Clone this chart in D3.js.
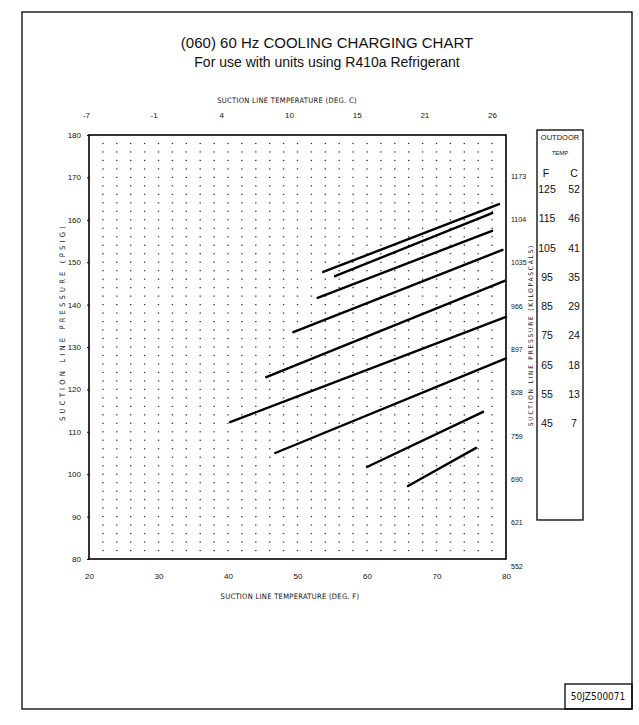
<!DOCTYPE html>
<html lang="en">
<head>
    <meta charset="utf-8">
    <style>
        body { margin: 0; background: #fff; }
        text { font-family: "Liberation Sans", Arial, sans-serif; fill: #111; }
        .tick-lbl { font-family: "Liberation Sans Narrow", "DejaVu Sans Condensed", "Liberation Sans", sans-serif; font-size: 8px; }
        .ax-title { font-family: "Liberation Sans Narrow", "DejaVu Sans Condensed", "Liberation Sans", sans-serif; font-size: 7.5px; }
        .legend { font-family: "Liberation Sans Narrow", "DejaVu Sans Condensed", "Liberation Sans", sans-serif; font-size: 10.5px; }
        .curve { fill: none; stroke: #000; stroke-width: 2.4; stroke-linecap: round; }
    </style>
</head>
<body>
    <svg width="639" height="725"></svg>
    <script src="https://cdn.jsdelivr.net/npm/d3@7"></script>
    <script>

        // outdoor temperatures (legend, top to bottom)
        var outdoorF = [125, 115, 105, 95, 85, 75, 65, 55, 45];
        var outdoorC = [52, 46, 41, 35, 29, 24, 18, 13, 7];

        // charging lines: [start F, start psig, end F, end psig], same order as outdoorF
        var lines = [
            [53.7, 147.7, 79.0, 163.7],
            [55.4, 146.7, 78.0, 161.6],
            [52.9, 141.6, 78.0, 157.4],
            [49.4, 133.5, 79.5, 152.9],
            [45.5, 122.9, 79.8, 145.6],
            [40.3, 112.3, 80.0, 137.1],
            [46.8, 105.0, 80.0, 127.3],
            [60.0, 101.7, 76.7, 114.7],
            [65.9, 97.2, 75.7, 106.2]
        ];

        // axis ticks
        var tempF = [20, 30, 40, 50, 60, 70, 80];
        var tempC = ["-7", "-1", "4", "10", "15", "21", "26"];
        var psig = [80, 90, 100, 110, 120, 130, 140, 150, 160, 170, 180];
        var kpaPsig = [170, 160, 150, 140, 130, 120, 110, 100, 90, 80];
        var kpa = [1173, 1104, 1035, 966, 897, 828, 759, 690, 621, 552];

        var svg = d3.select("svg");

        var x = d3.scaleLinear().domain([20, 80]).range([89, 506]);
        var y = d3.scaleLinear().domain([80, 180]).range([559, 135]);
        // scanned top / right scales are slightly off from the plot frame
        var xTop = d3.scaleLinear().domain([20, 80]).range([86, 492]);
        var yRight = d3.scaleLinear().domain([80, 170]).range([566, 176]);

        // page frame
        svg.append("rect")
            .attr("x", 22).attr("y", 12)
            .attr("width", 610).attr("height", 697)
            .attr("fill", "none").attr("stroke", "#000").attr("stroke-width", 1.3);

        // titles
        svg.append("text").attr("x", 327).attr("y", 48)
            .attr("text-anchor", "middle").style("font-size", "15px")
            .text("(060) 60 Hz COOLING CHARGING CHART");
        svg.append("text").attr("x", 327).attr("y", 67)
            .attr("text-anchor", "middle").style("font-size", "14px")
            .text("For use with units using R410a Refrigerant");

        // dotted grid
        var gx = d3.range(22, 80, 2), gy = d3.range(82, 180, 2);
        svg.append("g").selectAll("rect")
            .data(d3.cross(gx, gy))
            .enter().append("rect")
            .attr("x", function (d) { return x(d[0]) - 0.7; })
            .attr("y", function (d) { return y(d[1]) - 0.6; })
            .attr("width", 1.4).attr("height", 1.2)
            .attr("fill", "#333");

        // plot frame
        svg.append("rect")
            .attr("x", x(20)).attr("y", y(180))
            .attr("width", x(80) - x(20)).attr("height", y(80) - y(180))
            .attr("fill", "none").attr("stroke", "#000").attr("stroke-width", 1.6);

        // left axis
        var yAxis = svg.append("g")
            .attr("class", "tick-lbl")
            .attr("transform", "translate(" + x(20) + ",0)")
            .call(d3.axisLeft(y).tickValues(psig).tickSize(2).tickPadding(6));
        yAxis.select(".domain").remove();

        // bottom axis
        var xAxis = svg.append("g")
            .attr("class", "tick-lbl")
            .attr("transform", "translate(0," + (y(80) + 8) + ")")
            .call(d3.axisBottom(x).tickValues(tempF).tickSize(0).tickPadding(6));
        xAxis.select(".domain").remove();

        // top axis, celsius
        var cAxis = svg.append("g")
            .attr("class", "tick-lbl")
            .attr("transform", "translate(0,121)")
            .call(d3.axisTop(xTop).tickValues(tempF).tickSize(0)
                .tickFormat(function (d, i) { return tempC[i]; }));
        cAxis.select(".domain").remove();
        svg.selectAll(".tick-lbl text").style("font-size", "8px").attr("fill", "#111");

        // right axis, kilopascals
        var kAxis = svg.append("g")
            .attr("class", "tick-lbl")
            .attr("transform", "translate(510,0)")
            .call(d3.axisRight(yRight).tickValues(kpaPsig).tickSize(0).tickPadding(1)
                .tickFormat(function (d, i) { return kpa[i]; }));
        kAxis.select(".domain").remove();
        kAxis.selectAll("text").style("font-size", "7px").attr("fill", "#111");

        // axis titles
        svg.append("text").attr("class", "ax-title")
            .attr("x", 287).attr("y", 103).attr("text-anchor", "middle")
            .style("letter-spacing", "0.3px")
            .text("SUCTION LINE TEMPERATURE (DEG. C)");
        svg.append("text").attr("class", "ax-title")
            .attr("x", 290).attr("y", 599).attr("text-anchor", "middle")
            .style("letter-spacing", "0.3px")
            .text("SUCTION LINE TEMPERATURE (DEG. F)");
        svg.append("text").attr("class", "ax-title")
            .attr("transform", "translate(65,322) rotate(-90)")
            .attr("text-anchor", "middle")
            .style("letter-spacing", "3.2px")
            .text("SUCTION LINE PRESSURE (PSIG)");
        svg.append("text").attr("class", "ax-title")
            .attr("transform", "translate(533,335) rotate(-90)")
            .attr("text-anchor", "middle")
            .style("font-size", "6.5px")
            .style("letter-spacing", "1.8px")
            .text("SUCTION LINE PRESSURE (KILOPASCALS)");

        // charging lines
        svg.append("g").selectAll("line")
            .data(lines)
            .enter().append("line")
            .attr("class", "curve")
            .attr("x1", function (d) { return x(d[0]); })
            .attr("y1", function (d) { return y(d[1]); })
            .attr("x2", function (d) { return x(d[2]); })
            .attr("y2", function (d) { return y(d[3]); });

        // legend box
        var lg = svg.append("g").attr("class", "legend");
        lg.append("rect")
            .attr("x", 537).attr("y", 130).attr("width", 46).attr("height", 390)
            .attr("fill", "none").attr("stroke", "#000").attr("stroke-width", 1.3);
        lg.append("text").attr("x", 560).attr("y", 140).attr("text-anchor", "middle")
            .style("font-size", "7.5px").text("OUTDOOR");
        lg.append("text").attr("x", 560).attr("y", 155).attr("text-anchor", "middle")
            .style("font-size", "6px").text("TEMP");
        lg.append("text").attr("x", 546).attr("y", 177).attr("text-anchor", "middle").text("F");
        lg.append("text").attr("x", 574).attr("y", 177).attr("text-anchor", "middle").text("C");

        var rowY = d3.scalePoint().domain(outdoorF).range([193, 427]);
        lg.selectAll(".fval")
            .data(outdoorF)
            .enter().append("text")
            .attr("x", 547).attr("y", function (d) { return rowY(d); })
            .attr("text-anchor", "middle")
            .text(function (d) { return d; });
        lg.selectAll(".cval")
            .data(outdoorC)
            .enter().append("text")
            .attr("x", 574).attr("y", function (d, i) { return rowY(outdoorF[i]); })
            .attr("text-anchor", "middle")
            .text(function (d) { return d; });

        // drawing number
        svg.append("rect")
            .attr("x", 565).attr("y", 684).attr("width", 67).attr("height", 25)
            .attr("fill", "none").attr("stroke", "#000").attr("stroke-width", 1.3);
        svg.append("text").attr("x", 598).attr("y", 700).attr("text-anchor", "middle")
            .style("font-family", "'Liberation Sans Narrow', 'DejaVu Sans Condensed', sans-serif")
            .style("font-size", "10px")
            .text("50JZ500071");

    </script>
</body>
</html>
